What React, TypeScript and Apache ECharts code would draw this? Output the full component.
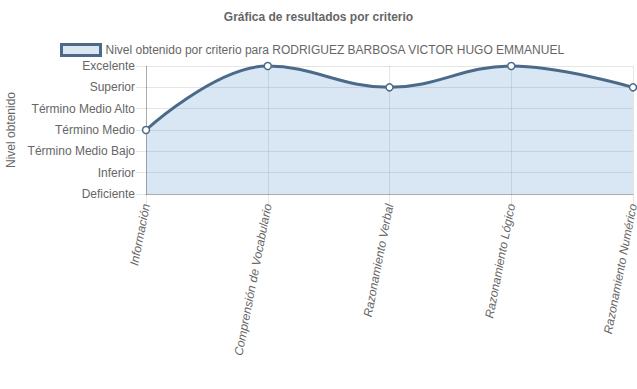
import React, { useEffect, useRef } from "react";
import * as echarts from "echarts";

const categories = [
  "Información",
  "Comprensión de Vocabulario",
  "Razonamiento Verbal",
  "Razonamiento Lógico",
  "Razonamiento Numérico",
];
const levelLabels = [
  "Deficiente",
  "Inferior",
  "Término Medio Bajo",
  "Término Medio",
  "Término Medio Alto",
  "Superior",
  "Excelente",
];
const levelValues = [3, 6, 5, 6, 5];
const seriesName = "Nivel obtenido por criterio para RODRIGUEZ BARBOSA VICTOR HUGO EMMANUEL";
const titleText = "Gráfica de resultados por criterio";
const yAxisTitle = "Nivel obtenido";

const FONT = "'Liberation Sans', Arial, Helvetica, sans-serif";
const LINE = "#4b6a89";
const FILL = "rgba(65,135,200,0.2)";
const GRID = "rgba(0,0,0,0.1)";

export default function App() {
  const ref = useRef<HTMLDivElement>(null);
  useEffect(() => {
    if (!ref.current) return;
    const chart = echarts.init(ref.current, undefined, { renderer: "svg" });
    chart.setOption({
      animation: false,
      textStyle: { fontFamily: FONT },
      title: {
        text: titleText,
        left: "center",
        top: 11,
        padding: 0,
        textStyle: { fontFamily: FONT, fontSize: 12, fontWeight: "bold", color: "#666" },
      },
      legend: {
        left: 60,
        top: 43,
        padding: 0,
        itemWidth: 39,
        itemHeight: 11,
        itemGap: 10,
        textStyle: { fontFamily: FONT, fontSize: 12, color: "#666", lineHeight: 12 },
        data: [
          {
            name: seriesName,
            icon: "rect",
            itemStyle: { color: "#dae7f3", borderColor: LINE, borderWidth: 3 },
          },
        ],
      },
      grid: {
        left: 146,
        right: 4,
        top: 66,
        bottom: 195,
        containLabel: false,
        outerBoundsMode: "none",
      },
      xAxis: {
        type: "category",
        data: categories,
        boundaryGap: false,
        axisLine: { show: true, lineStyle: { color: "rgba(0,0,0,0.25)" } },
        axisTick: { show: true, length: 10, lineStyle: { color: GRID } },
        splitLine: { show: true, lineStyle: { color: GRID } },
        axisLabel: {
          rotate: 79,
          margin: 10,
          fontStyle: "italic",
          fontSize: 12,
          color: "#666",
          fontFamily: FONT,
          interval: 0,
        },
      },
      yAxis: {
        type: "value",
        min: 0,
        max: 6,
        interval: 1,
        name: yAxisTitle,
        nameLocation: "middle",
        nameRotate: 90,
        nameGap: 126,
        nameTextStyle: { fontFamily: FONT, fontSize: 12, color: "#666" },
        axisLine: { show: true, lineStyle: { color: "rgba(0,0,0,0.25)" } },
        axisTick: { show: true, length: 10, lineStyle: { color: GRID } },
        splitLine: { show: true, lineStyle: { color: GRID } },
        axisLabel: {
          margin: 11,
          fontSize: 12,
          color: "#666",
          fontFamily: FONT,
          formatter: (v: number) => levelLabels[v] ?? "",
        },
      },
      series: [
        {
          name: seriesName,
          type: "line",
          data: levelValues,
          smooth: 0.4,
          symbol: "circle",
          symbolSize: 7,
          clip: false,
          lineStyle: { color: LINE, width: 3 },
          itemStyle: { color: "#fff", borderColor: LINE, borderWidth: 1.5 },
          areaStyle: { color: FILL, opacity: 1, origin: "start" },
        },
      ],
    });
    return () => chart.dispose();
  }, []);
  return <div ref={ref} style={{ width: 637, height: 389, position: "absolute", left: 0, top: 0 }} />;
}
